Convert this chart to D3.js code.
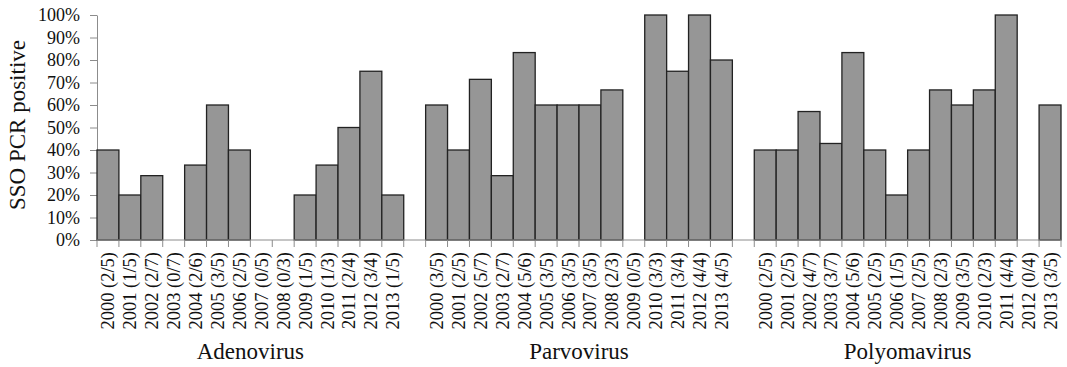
<!DOCTYPE html>
<html>
<head>
<meta charset="utf-8">
<title>SSO PCR positive</title>
<style>
  body { margin: 0; background: #fff; }
  text { font-family: "Liberation Serif", "Times New Roman", serif; fill: #111; }
  .bar { fill: #969696; stroke: #222; stroke-width: 1.3px; }
  .axis path, .axis line { stroke: #8c8c8c; }
</style>
</head>
<body>
<script src="https://cdn.jsdelivr.net/npm/d3@7"></script>
<script>
  const width = 1067, height = 367;

  const groups = ["Adenovirus", "Parvovirus", "Polyomavirus"];
  const years = ["2000","2001","2002","2003","2004","2005","2006","2007","2008","2009","2010","2011","2012","2013"];

  // counts shown in the tick labels
  const adenoCounts = ["2/5","1/5","2/7","0/7","2/6","3/5","2/5","0/5","0/3","1/5","1/3","2/4","3/4","1/5"];
  const parvoCounts = ["3/5","2/5","5/7","2/7","5/6","3/5","3/5","3/5","2/3","0/5","3/3","3/4","4/4","4/5"];
  const polyoCounts = ["2/5","2/5","4/7","3/7","5/6","2/5","1/5","2/5","2/3","3/5","2/3","4/4","0/4","3/5"];

  // percent positive
  const adenoValues = [40, 20, 28.6, 0, 33.3, 60, 40, 0, 0, 20, 33.3, 50, 75, 20];
  const parvoValues = [60, 40, 71.4, 28.6, 83.3, 60, 60, 60, 66.7, 0, 100, 75, 100, 80];
  const polyoValues = [40, 40, 57.1, 42.9, 83.3, 40, 20, 40, 66.7, 60, 66.7, 100, 0, 60];

  const yTicks = [0,10,20,30,40,50,60,70,80,90,100];

  const series = [
    {name: groups[0], counts: adenoCounts, values: adenoValues},
    {name: groups[1], counts: parvoCounts, values: parvoValues},
    {name: groups[2], counts: polyoCounts, values: polyoValues}
  ];

  // build the category list, with an empty slot between groups
  const rows = [];
  const domain = [];
  series.forEach((s, gi) => {
    if (gi > 0) domain.push("gap" + gi);
    years.forEach((y, i) => {
      const key = s.name + "|" + y;
      domain.push(key);
      rows.push({key: key, group: s.name, label: y + " (" + s.counts[i] + ")", value: s.values[i]});
    });
  });

  const x0 = 97, x1 = 1061, yBottom = 240, yTop = 15;

  const x = d3.scaleBand().domain(domain).range([x0, x1]).padding(0);
  const y = d3.scaleLinear().domain([0, 100]).range([yBottom, yTop]);

  const svg = d3.select("body").append("svg")
    .attr("width", width)
    .attr("height", height);

  // y axis
  const yAxis = svg.append("g")
    .attr("class", "axis")
    .attr("transform", "translate(" + x0 + ",0)")
    .call(d3.axisLeft(y).tickValues(yTicks).tickSize(7).tickSizeOuter(0).tickFormat(d => d + "%"));
  yAxis.selectAll("text")
    .attr("x", -17)
    .style("font-size", "18px")
    .style("font-family", "Liberation Serif, serif")
    .attr("fill", "#111");

  // bars
  svg.selectAll("rect.bar")
    .data(rows.filter(d => d.value > 0))
    .enter()
    .append("rect")
    .attr("class", "bar")
    .attr("x", d => x(d.key))
    .attr("width", x.bandwidth())
    .attr("y", d => y(d.value))
    .attr("height", d => y(0) - y(d.value));

  // x axis line and ticks at each band boundary
  const xAxis = svg.append("g").attr("class", "axis");
  xAxis.append("line")
    .attr("x1", x0).attr("x2", x1)
    .attr("y1", yBottom).attr("y2", yBottom);
  const bounds = domain.map(k => x(k)).concat([x1]);
  xAxis.selectAll("line.tick")
    .data(bounds)
    .enter()
    .append("line")
    .attr("class", "tick")
    .attr("x1", d => d).attr("x2", d => d)
    .attr("y1", yBottom).attr("y2", yBottom + 7);

  // rotated category labels
  svg.selectAll("text.cat")
    .data(rows)
    .enter()
    .append("text")
    .attr("class", "cat")
    .attr("transform", d => "translate(" + (x(d.key) + x.bandwidth() / 2) + ",252) rotate(-90)")
    .attr("text-anchor", "end")
    .attr("dy", "0.35em")
    .style("font-size", "18.5px")
    .text(d => d.label);

  // group names
  svg.selectAll("text.group")
    .data(series)
    .enter()
    .append("text")
    .attr("class", "group")
    .attr("x", d => {
      const a = x(d.name + "|" + years[0]);
      const b = x(d.name + "|" + years[years.length - 1]) + x.bandwidth();
      return (a + b) / 2;
    })
    .attr("y", 359)
    .attr("text-anchor", "middle")
    .style("font-size", "23px")
    .text(d => d.name);

  // y title
  svg.append("text")
    .attr("transform", "translate(17,125) rotate(-90)")
    .attr("text-anchor", "middle")
    .attr("dy", "0.35em")
    .style("font-size", "23px")
    .text("SSO PCR positive");
</script>
</body>
</html>
